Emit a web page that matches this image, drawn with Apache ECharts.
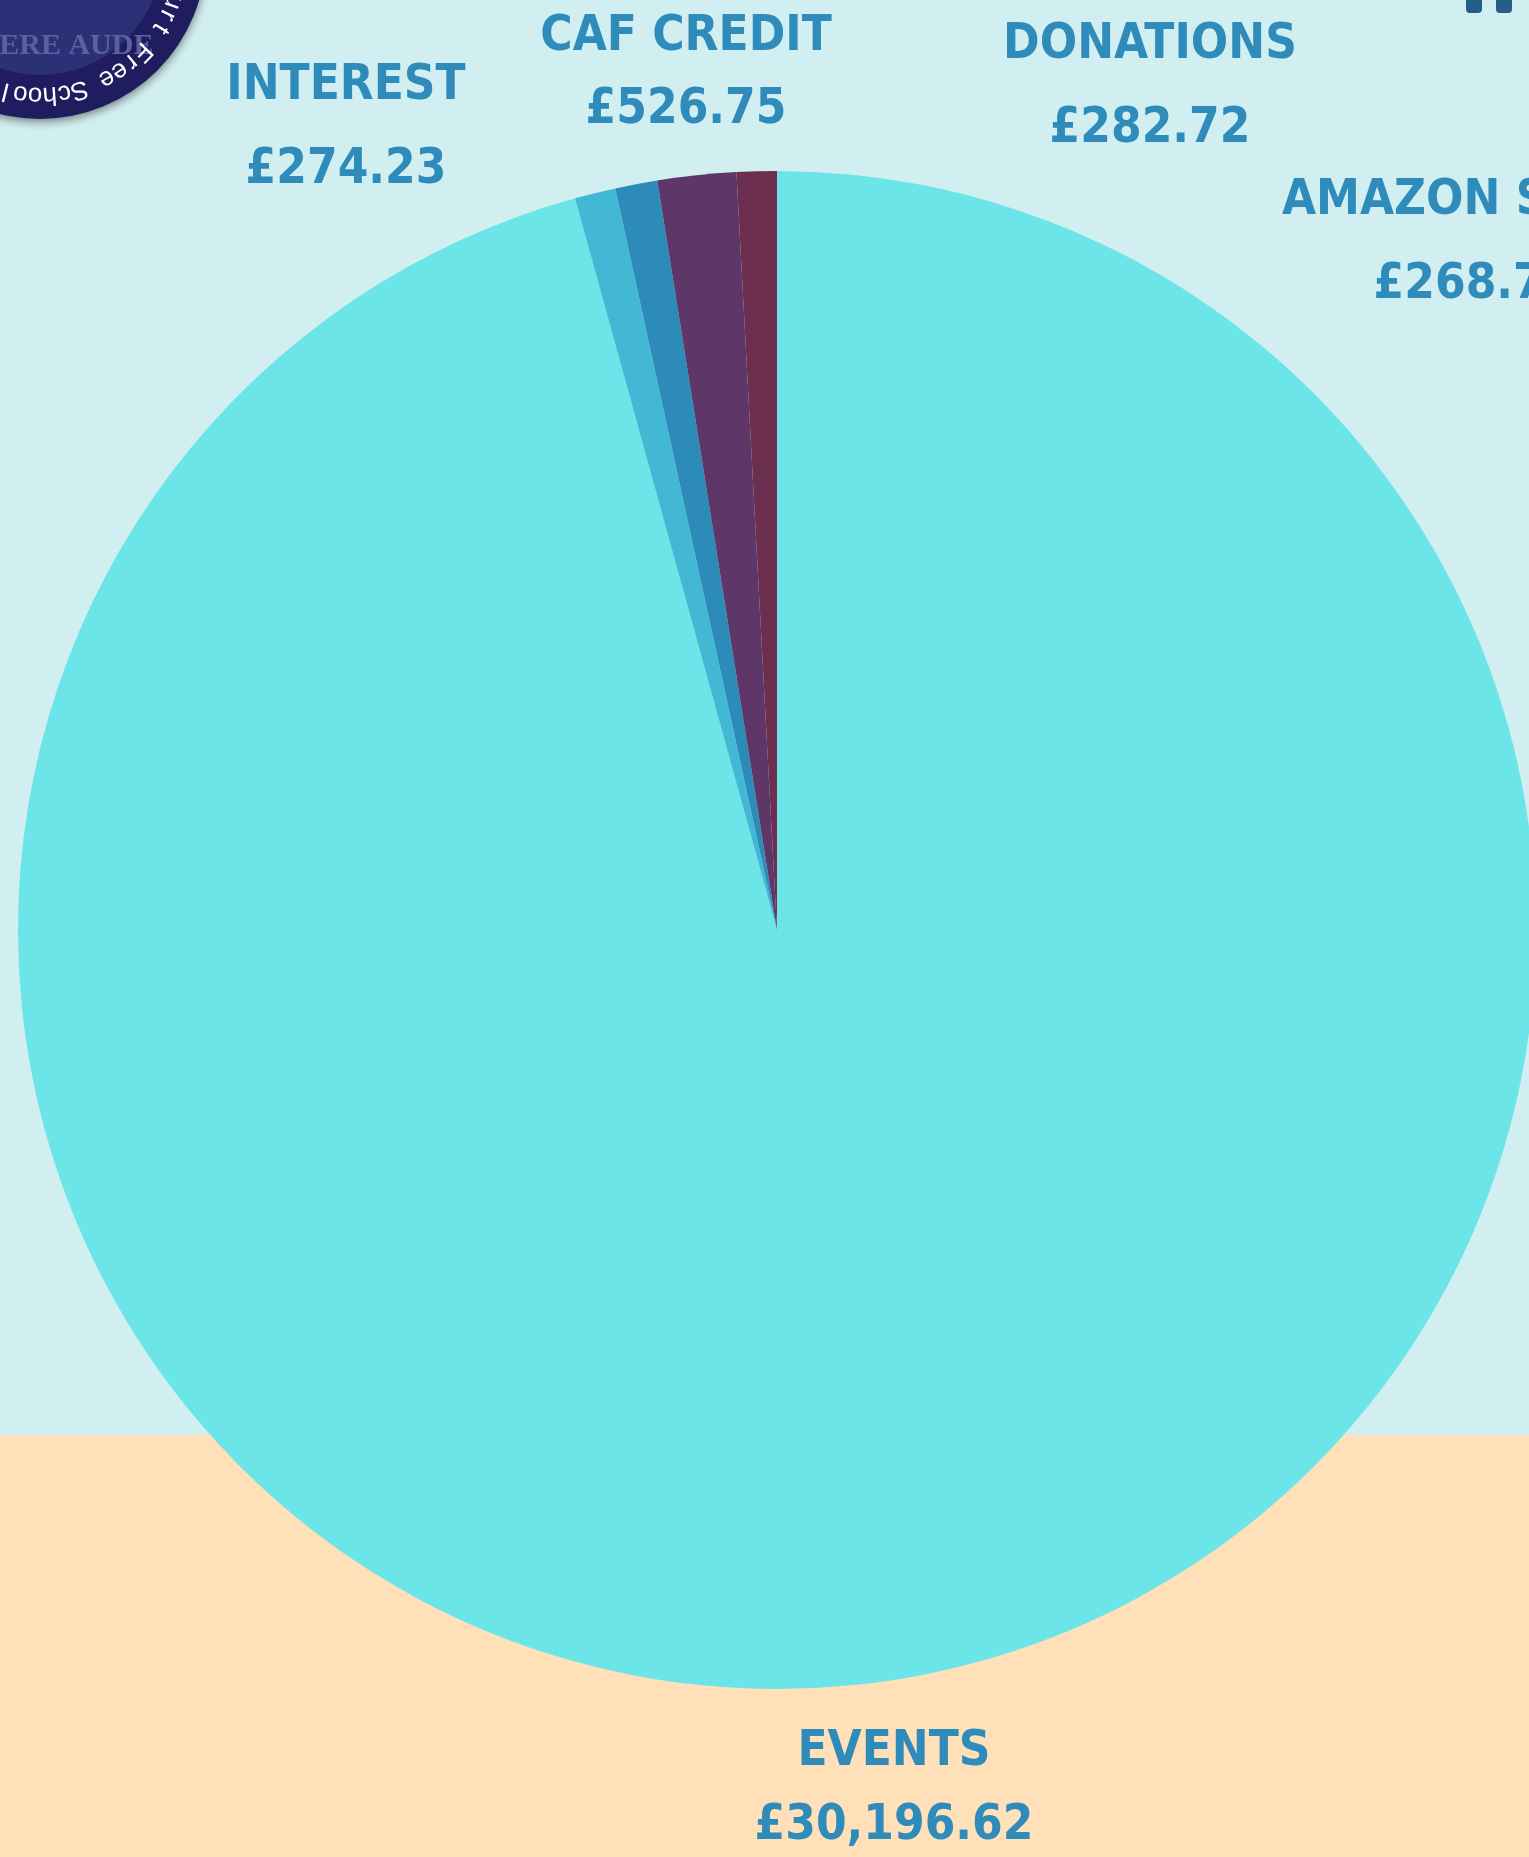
<!DOCTYPE html>
<html>
<head>
<meta charset="utf-8">
<title>Income</title>
<script src="https://cdn.jsdelivr.net/npm/echarts@6.0.0/dist/echarts.min.js"></script>
<style>
  html, body { margin: 0; padding: 0; }
  #chart { width: 1529px; height: 1857px; }
</style>
</head>
<body>
<div id="chart"></div>
<script>
// slices go clockwise from 12 o'clock
var names = ["EVENTS", "INTEREST", "DONATIONS", "CAF CREDIT", "AMAZON SMILE"];
var values = [30196.62, 274.23, 282.72, 526.75, 268.75];
var colors = ["#6be5e8", "#43b8d5", "#2d8bba", "#5e3668", "#6d2f50"];

// where each label block sits (centre of the two lines)
var labelPos = [[894, 1789], [346, 128], [1150, 87], [686, 74], [1474, 243]];
var labelGap = [74, 84, 84, 73, 84];

var chart = echarts.init(document.getElementById("chart"));

function money(v) {
  return "£" + v.toLocaleString("en-GB", { minimumFractionDigits: 2, maximumFractionDigits: 2 });
}

var data = [];
for (var i = 0; i < names.length; i++) {
  data.push({
    name: names[i],
    value: values[i],
    itemStyle: { color: colors[i] },
    label: { lineHeight: labelGap[i] }
  });
}

// school badge in the top-left corner
var badge = [
  {
    type: "circle",
    shape: { cx: 40, cy: -47, r: 166 },
    style: { fill: "#1f1d5f", shadowBlur: 8, shadowOffsetY: 3, shadowColor: "rgba(0,0,0,0.45)" }
  },
  {
    type: "circle",
    shape: { cx: 40, cy: -47, r: 122 },
    style: { fill: "#2c3077" }
  },
  {
    type: "text",
    x: 48,
    y: 46,
    style: {
      text: "SAPERE AUDE",
      fill: "#5c609f",
      font: "bold 30px 'Liberation Serif'",
      align: "center",
      verticalAlign: "middle"
    }
  }
];
var ring = "Court Free School";
for (var k = 0; k < ring.length; k++) {
  var a = (8 + k * 6) * Math.PI / 180;
  badge.push({
    type: "text",
    x: 40 + 142 * Math.cos(a),
    y: -47 + 142 * Math.sin(a),
    rotation: -(a + Math.PI / 2),
    style: {
      text: ring[k],
      fill: "#ffffff",
      font: "26px 'Liberation Sans'",
      align: "center",
      verticalAlign: "middle"
    }
  });
}

chart.setOption({
  animation: false,
  backgroundColor: "#d1eef0",
  graphic: [
    {
      type: "rect",
      z: -10,
      shape: { x: 0, y: 1435, width: 1529, height: 430 },
      style: { fill: "#ffe0b9" }
    },
    {
      type: "rect",
      shape: { x: 1466, y: -10, width: 16, height: 23, r: 4 },
      style: { fill: "#265d86" }
    },
    {
      type: "rect",
      shape: { x: 1496, y: -10, width: 16, height: 23, r: 4 },
      style: { fill: "#265d86" }
    },
    {
      type: "group",
      children: badge
    }
  ],
  series: [
    {
      type: "pie",
      center: [777, 930],
      radius: 759,
      startAngle: 90,
      clockwise: true,
      avoidLabelOverlap: false,
      label: {
        show: true,
        position: "outside",
        color: "#2e8bba",
        fontFamily: "'DejaVu Sans Condensed', sans-serif",
        fontWeight: "bold",
        fontSize: 49,
        formatter: function (p) {
          return p.name + "\n" + money(p.value);
        }
      },
      labelLine: { show: false },
      labelLayout: function (p) {
        return {
          x: labelPos[p.dataIndex][0],
          y: labelPos[p.dataIndex][1],
          align: "center",
          verticalAlign: "middle",
          hideOverlap: false
        };
      },
      emphasis: { disabled: true },
      data: data
    }
  ]
});
</script>
</body>
</html>
